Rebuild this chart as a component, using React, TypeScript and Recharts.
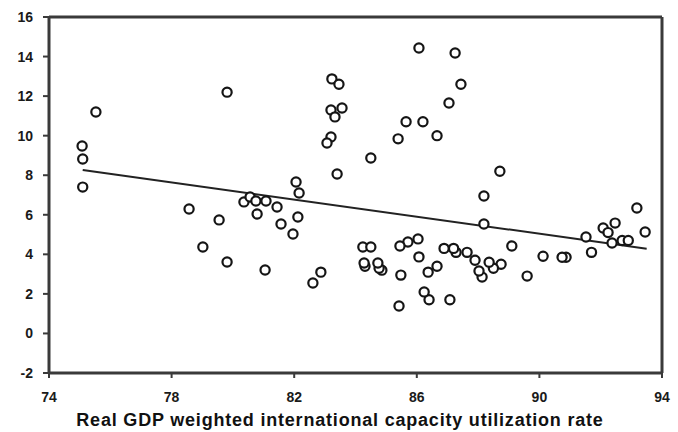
import { ScatterChart, Scatter, XAxis, YAxis, ReferenceLine, Label } from "recharts";

// capacity utilization (x) and the y value for each observation
const utilization = [
  75.08, 75.1, 75.1, 75.53, 79.81, 82.06, 82.16, 83.23, 83.46, 83.2, 83.56, 83.33, 83.2, 83.07, 83.4,
  86.07, 87.25, 87.44, 87.05, 85.65, 86.2, 85.39, 86.66, 84.5, 88.71, 88.19,
  78.57, 79.02, 79.55, 79.81, 80.36, 80.56, 80.75, 81.08, 80.79, 81.05, 81.44, 81.57, 81.96, 82.12, 82.61, 82.87,
  88.19, 93.18, 93.45, 91.52, 92.08, 92.47, 92.24, 92.37, 92.7, 92.9, 91.7, 90.87, 90.74, 90.12, 89.6, 89.1,
  88.75, 88.5, 88.36, 88.13, 88.03, 87.9, 87.64, 87.28, 87.2, 86.89, 87.08, 86.4, 86.24, 86.66, 86.37,
  86.07, 86.04, 85.71, 85.45, 85.48, 85.42, 84.86, 84.77, 84.73, 84.31, 84.28, 84.24, 84.5,
];
const values = [
  9.48, 8.82, 7.4, 11.2, 12.2, 7.66, 7.1, 12.87, 12.6, 11.3, 11.4, 10.95, 9.93, 9.63, 8.06,
  14.43, 14.18, 12.6, 11.65, 10.7, 10.7, 9.84, 10.0, 8.87, 8.2, 6.95,
  6.29, 4.37, 5.74, 3.61, 6.65, 6.9, 6.7, 6.7, 6.04, 3.21, 6.39, 5.53, 5.03, 5.89, 2.55, 3.1,
  5.53, 6.34, 5.13, 4.88, 5.33, 5.58, 5.1, 4.57, 4.7, 4.7, 4.1, 3.85, 3.85, 3.9, 2.9, 4.42,
  3.5, 3.3, 3.6, 2.85, 3.16, 3.7, 4.1, 4.1, 4.3, 4.3, 1.7, 1.7, 2.1, 3.4, 3.1,
  3.87, 4.78, 4.62, 4.42, 2.95, 1.39, 3.2, 3.3, 3.56, 3.4, 3.56, 4.37, 4.37,
];
const xTicks = [74, 78, 82, 86, 90, 94];
const yTicks = [-2, 0, 2, 4, 6, 8, 10, 12, 14, 16];

// fitted trend line
const fitStart = 75.1;
const fitEnd = 93.5;
const fitIntercept = 8.26;
const fitSlope = -0.216;

const points = utilization.map((x, i) => ({ x, y: values[i] }));

const FONT = "Liberation Sans, Arial, sans-serif";
const AXIS = "#3a3a3a";

const Ring = (props: any) => {
  const { cx, cy } = props;
  return <circle cx={cx} cy={cy} r={4.6} fill="#fff" stroke="#151515" strokeWidth={2.2} />;
};

const renderXTick = (p: any) => (
  <text
    x={p.x}
    y={p.y + 22}
    textAnchor="middle"
    style={{ fontFamily: FONT, fontWeight: 700, fontSize: 14, fill: "#1a1a1a" }}
  >
    {p.payload.value}
  </text>
);

const renderYTick = (p: any) => (
  <text
    x={p.x - 8}
    y={p.y + 5}
    textAnchor="end"
    style={{ fontFamily: FONT, fontWeight: 700, fontSize: 14, fill: "#1a1a1a" }}
  >
    {p.payload.value}
  </text>
);

// title is centred on the page, a bit left of the plot centre
const renderTitle = () => (
  <text
    x={340}
    y={426}
    textAnchor="middle"
    style={{ fontFamily: FONT, fontWeight: 700, fontSize: 18, letterSpacing: 0.8, fill: "#111" }}
  >
    Real GDP weighted international capacity utilization rate
  </text>
);

export default function App() {
  return (
    <div style={{ position: "absolute", left: 0, top: 0, background: "#fff" }}>
      <ScatterChart width={678} height={432} margin={{ top: 17, right: 16, left: 9, bottom: 0 }}>
        <XAxis
          dataKey="x"
          type="number"
          domain={[74, 94]}
          ticks={xTicks}
          height={59}
          tick={renderXTick}
          tickSize={5}
          axisLine={{ stroke: AXIS, strokeWidth: 3 }}
          tickLine={{ stroke: AXIS, strokeWidth: 2 }}
        >
          <Label content={renderTitle} />
        </XAxis>
        <YAxis
          dataKey="y"
          type="number"
          domain={[-2, 16]}
          ticks={yTicks}
          width={40}
          tick={renderYTick}
          tickSize={6}
          axisLine={{ stroke: AXIS, strokeWidth: 3 }}
          tickLine={{ stroke: AXIS, strokeWidth: 2 }}
        />
        <ReferenceLine y={16} stroke={AXIS} strokeWidth={3} />
        <ReferenceLine x={94} stroke={AXIS} strokeWidth={3} />
        <ReferenceLine
          segment={[
            { x: fitStart, y: fitIntercept },
            { x: fitEnd, y: fitIntercept + fitSlope * (fitEnd - fitStart) },
          ]}
          stroke="#222"
          strokeWidth={2}
          ifOverflow="visible"
        />
        <Scatter data={points} shape={<Ring />} isAnimationActive={false} />
      </ScatterChart>
    </div>
  );
}
